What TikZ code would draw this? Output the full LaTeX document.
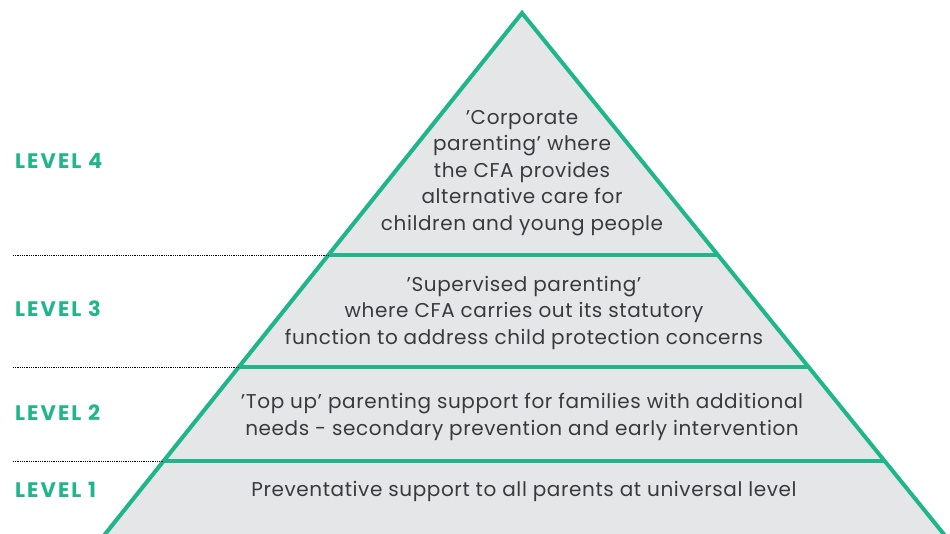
\documentclass[tikz,border=0pt]{standalone}
\usepackage{fontspec}
\setmainfont{Poppins}
\usepackage{xcolor}
\usepackage{tikz}
\usetikzlibrary{positioning}

\definecolor{pyrGreen}{RGB}{30,182,138}
\definecolor{pyrFill}{RGB}{229,230,232}
\definecolor{pyrText}{RGB}{58,58,62}

\begin{document}
\begin{tikzpicture}[
	x = 1pt, y = 1pt,
	level/.style = { font = \fontsize{21}{24}\selectfont\bfseries\addfontfeature{LetterSpace=10}, text = pyrGreen, anchor = west, inner sep=0pt, outer sep=0pt },
	tier/.style = { font = \fontsize{20}{26.5}\selectfont\addfontfeature{LetterSpace=3}, text = pyrText, align = center, inner sep=0pt, outer sep=0pt },
	outline/.style = { draw = pyrGreen, fill = pyrFill, line width = 4pt, line join = miter },
	divider/.style = { draw = pyrGreen, line width = 4pt },
	guide/.style = { densely dotted, line width = 0.8pt, black },
	]
	\useasboundingbox (0,0) rectangle (950,533);
	\clip (0,0) rectangle (950,533);
	
	% pyramid corners
	\coordinate (APEX) at (522,520);
	\coordinate (BASEleft) at (98,-10);
	\coordinate (BASEright) at (951,-10);
	
	% where the dividers meet the sides
	\coordinate (L4) at (328.4,278);
	\coordinate (R4) at (718,278);
	\coordinate (L3) at (238.8,166);
	\coordinate (R3) at (808.7,166);
	\coordinate (L2) at (163.6,72);
	\coordinate (R2) at (884.9,72);
	
	% left ends of the dotted guides
	\coordinate (G4) at (13,278);
	\coordinate (G3) at (13,166);
	\coordinate (G2) at (13,72);
	
	\path[outline] (APEX) -- (BASEright) -- (BASEleft) -- cycle;
	
	\path[divider] (L4) -- (R4);
	\path[divider] (L3) -- (R3);
	\path[divider] (L2) -- (R2);
	
	\path[guide] (G4) edge [] (L4);
	\path[guide] (G3) edge [] (L3);
	\path[guide] (G2) edge [] (L2);
	
	\node[level] (LEVEL4) at (15,372) {LEVEL 4};
	\node[level] (LEVEL3) at (15,224) {LEVEL 3};
	\node[level] (LEVEL2) at (15,120) {LEVEL 2};
	\node[level] (LEVEL1) at (15,43) {LEVEL 1};
	
	\node[tier] (TIER4) at (522,360) {'Corporate\\parenting' where\\the CFA provides\\alternative care for\\children and young people};
	\node[tier] (TIER3) at (524,220.5) {'Supervised parenting'\\where CFA carries out its statutory\\function to address child protection concerns};
	\node[tier] (TIER2) at (522,116) {'Top up' parenting support for families with additional\\needs - secondary prevention and early intervention};
	\node[tier] (TIER1) at (524,42) {Preventative support to all parents at universal level};
	
\end{tikzpicture}
\end{document}
